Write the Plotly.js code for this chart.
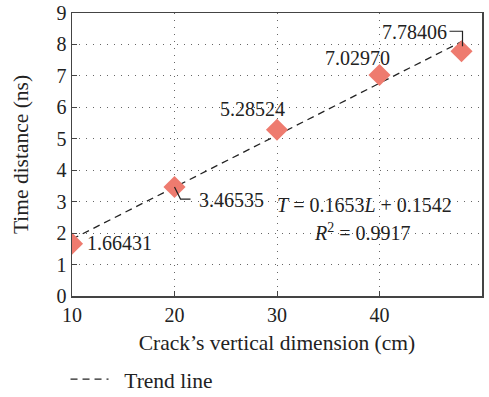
<!DOCTYPE html>
<html>
<head>
<meta charset="utf-8">
<script src="https://cdn.plot.ly/plotly-3.0.1.min.js"></script>
<style>html,body{margin:0;padding:0;background:#fff;}#chart{width:489px;height:397px;}</style>
</head>
<body>
<div id="chart"></div>
<script>
// Data
var crackDim = [10, 20, 30, 40, 48];
var timeDist = [1.66431, 3.46535, 5.28524, 7.02970, 7.78406];
var slope = 0.1653, intercept = 0.1542, r2 = 0.9917;
var trendX = [10, 48];
var xTicks = [10, 20, 30, 40, 50];
var yTicks = [0, 1, 2, 3, 4, 5, 6, 7, 8, 9];

var FONT = 'Liberation Serif, Times New Roman, serif';
var trendY = trendX.map(function (x) { return slope * x + intercept; });

var traces = [
  {
    x: trendX, y: trendY, mode: 'lines', name: '\u2005\u2005Trend line',
    line: {color: '#222', width: 1.3, dash: '7px,5px'}, showlegend: true
  },
  {
    x: crackDim, y: timeDist, mode: 'markers', name: 'Data',
    marker: {symbol: 'diamond', size: 17, color: '#EE7B6F'}, showlegend: false
  }
];

// label offsets (pixels) per point
var labelShift = [[47, 1], [57, -13], [-25, 21], [-22, 17], [-47, 19]];
var annotations = crackDim.map(function (x, i) {
  return {
    x: x, y: timeDist[i], xref: 'x', yref: 'y', showarrow: false,
    text: timeDist[i].toFixed(5), xshift: labelShift[i][0], yshift: labelShift[i][1],
    font: {family: FONT, size: 20, color: '#222'}
  };
});
annotations.push({
  xref: 'paper', yref: 'paper', x: 0.713, y: 0.322, xanchor: 'center', yanchor: 'middle',
  showarrow: false,
  text: '<i>T</i> = ' + slope.toFixed(4) + '<i>L</i> + ' + intercept.toFixed(4),
  font: {family: FONT, size: 20, color: '#222'}
});
annotations.push({
  xref: 'paper', yref: 'paper', x: 0.708, y: 0.226, xanchor: 'center', yanchor: 'middle',
  showarrow: false,
  text: '<i>R</i><sup>2</sup> = ' + r2.toFixed(4),
  font: {family: FONT, size: 20, color: '#222'}
});

// leader lines (pixel offsets anchored at data points)
var shapes = [
  {type: 'path', xref: 'x', yref: 'y', xsizemode: 'pixel', ysizemode: 'pixel',
   xanchor: crackDim[1], yanchor: timeDist[1],
   path: 'M0,0 L6,-12 L16,-12', line: {color: '#222', width: 1.2}},
  {type: 'path', xref: 'x', yref: 'y', xsizemode: 'pixel', ysizemode: 'pixel',
   xanchor: crackDim[4], yanchor: timeDist[4],
   path: 'M-12,20 L1,20 L1,5', line: {color: '#222', width: 1.2}}
];

var axisCommon = {
  showline: true, linecolor: '#444', linewidth: 1.5, mirror: true,
  showgrid: true, gridcolor: '#666', griddash: '1px,6px', gridwidth: 1,
  zeroline: false, ticks: 'inside', ticklen: 5, tickwidth: 1, tickcolor: '#444',
  tickfont: {family: FONT, size: 20, color: '#222'}
};

var layout = {
  width: 489, height: 397,
  margin: {l: 72, r: 7, t: 13, b: 101},
  paper_bgcolor: '#fff', plot_bgcolor: '#fff',
  font: {family: FONT, color: '#222'},
  xaxis: Object.assign({}, axisCommon, {
    range: [10, 50], tickvals: xTicks, ticktext: xTicks.map(String),
    title: {text: 'Crack\u2019s vertical dimension (cm)', font: {family: FONT, size: 21.5, color: '#222'}, standoff: 10}
  }),
  yaxis: Object.assign({}, axisCommon, {
    range: [0, 9], tickvals: yTicks, ticktext: yTicks.map(String),
    title: {text: 'Time distance (ns)', font: {family: FONT, size: 21.5, color: '#222'}, standoff: 22}
  }),
  legend: {orientation: 'h', xref: 'container', yref: 'container', x: 0.134, y: 0.045,
           xanchor: 'left', yanchor: 'middle', itemwidth: 38,
           font: {family: FONT, size: 21.5, color: '#222'}, bgcolor: 'rgba(0,0,0,0)'},
  annotations: annotations,
  shapes: shapes,
  showlegend: true
};

Plotly.newPlot('chart', traces, layout, {displayModeBar: false, staticPlot: true});
</script>
</body>
</html>
